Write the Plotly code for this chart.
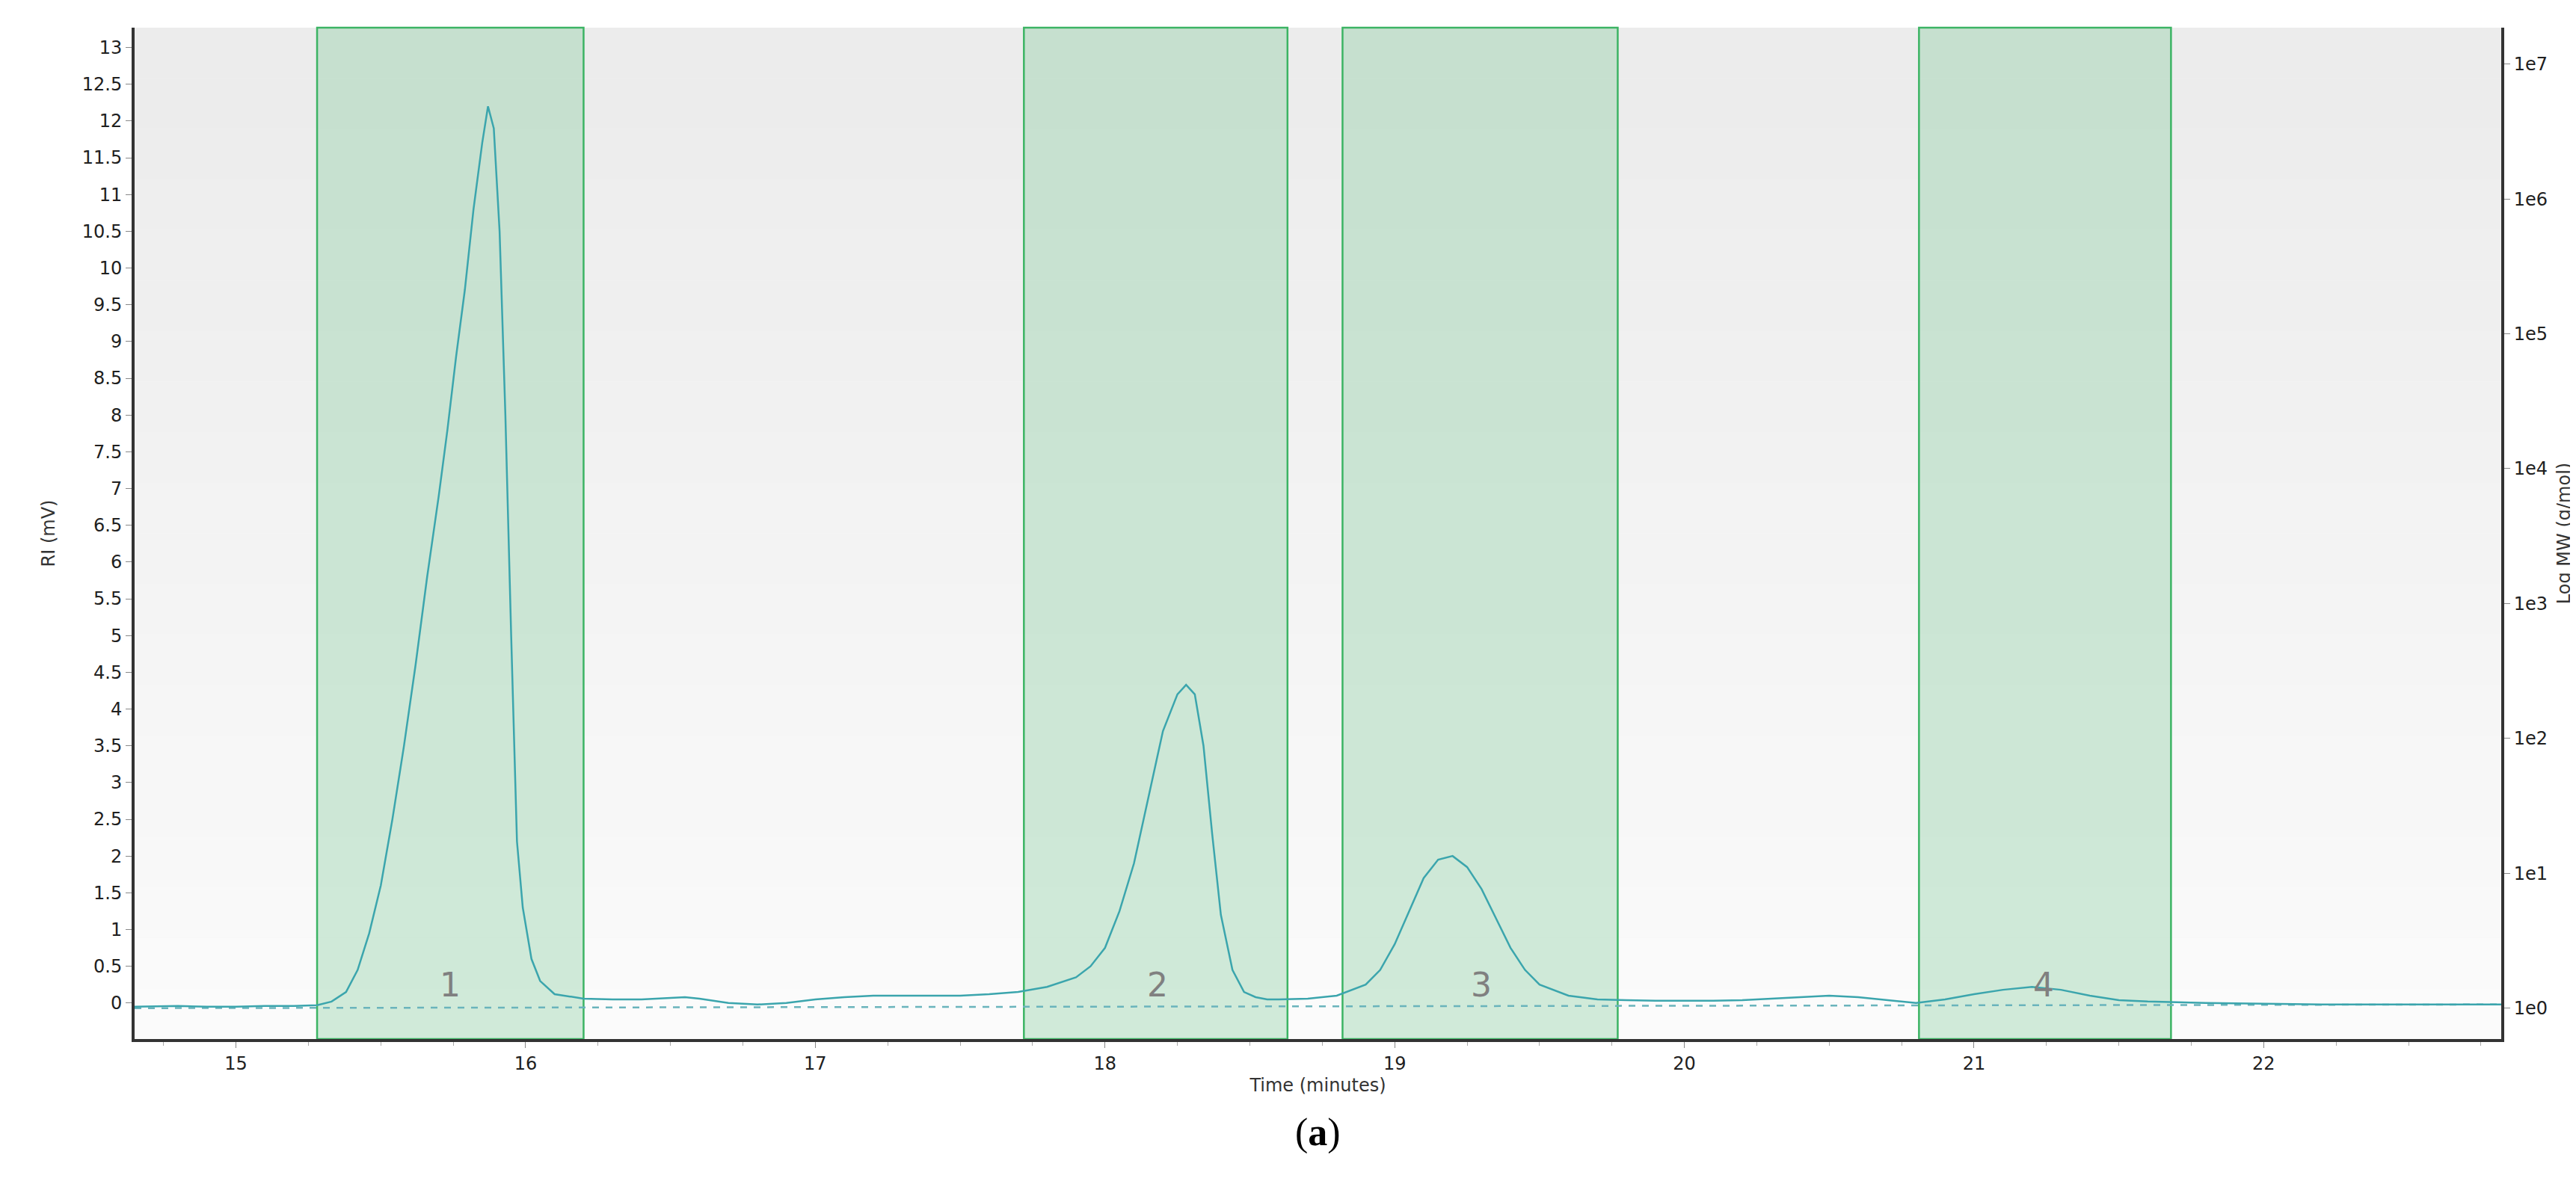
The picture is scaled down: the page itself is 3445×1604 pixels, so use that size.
import plotly.graph_objects as go

# RI trace (minutes, mV)
time_min = [14.65,14.8,14.9,15.0,15.1,15.2,15.28,15.33,15.38,15.42,15.46,15.5,15.54,15.58,15.62,15.66,15.7,15.73,15.76,15.79,15.82,15.85,15.87,15.89,15.91,15.93,15.95,15.97,15.99,16.02,16.05,16.1,16.2,16.3,16.4,16.5,16.55,16.6,16.7,16.8,16.9,17.0,17.1,17.2,17.3,17.4,17.5,17.6,17.7,17.8,17.9,17.95,18.0,18.05,18.1,18.15,18.2,18.25,18.28,18.31,18.34,18.37,18.4,18.44,18.48,18.52,18.56,18.6,18.7,18.8,18.9,18.95,19.0,19.05,19.1,19.15,19.2,19.25,19.3,19.35,19.4,19.45,19.5,19.6,19.7,19.8,19.9,20.0,20.1,20.2,20.3,20.4,20.5,20.6,20.7,20.8,20.9,21.0,21.1,21.2,21.3,21.4,21.5,21.6,21.7,21.8,22.0,22.2,22.4,22.6,22.82]
ri_mv = [-0.05,-0.04,-0.05,-0.05,-0.04,-0.04,-0.03,0.02,0.15,0.45,0.95,1.6,2.5,3.5,4.6,5.8,6.9,7.8,8.8,9.7,10.8,11.7,12.2,11.9,10.5,8.0,5.0,2.2,1.3,0.6,0.3,0.12,0.06,0.05,0.05,0.07,0.08,0.06,0.0,-0.02,0.0,0.05,0.08,0.1,0.1,0.1,0.1,0.12,0.15,0.22,0.35,0.5,0.75,1.25,1.9,2.8,3.7,4.2,4.33,4.2,3.5,2.3,1.2,0.45,0.15,0.08,0.05,0.05,0.06,0.1,0.25,0.45,0.8,1.25,1.7,1.95,2.0,1.85,1.55,1.15,0.75,0.45,0.25,0.1,0.05,0.04,0.03,0.03,0.03,0.04,0.06,0.08,0.1,0.08,0.04,0.0,0.05,0.12,0.18,0.22,0.18,0.1,0.04,0.02,0.01,0.0,-0.01,-0.02,-0.02,-0.02,-0.02]

baseline_x = [14.65, 22.82]
baseline_y = [-0.07, -0.02]

bands = [(15.28, 16.20, "1", 15.74), (17.72, 18.63, "2", 18.18), (18.82, 19.77, "3", 19.30), (20.81, 21.68, "4", 21.24)]

mw_ticks = [1, 10, 100, 1000, 1e4, 1e5, 1e6, 1e7]
mw_labels = ["1e0", "1e1", "1e2", "1e3", "1e4", "1e5", "1e6", "1e7"]
ri_ticks = [i * 0.5 for i in range(27)]
ri_labels = [("%g" % v) for v in ri_ticks]

fig = go.Figure()
fig.add_trace(go.Scatter(x=baseline_x, y=baseline_y, mode="lines",
                         line=dict(color="#6ab4bc", width=2.5, dash="dash"), showlegend=False))
fig.add_trace(go.Scatter(x=time_min, y=ri_mv, mode="lines",
                         line=dict(color="#3ba5ad", width=2.5), showlegend=False))
fig.add_trace(go.Scatter(x=[14.65], y=[1], yaxis="y2", mode="markers",
                         marker=dict(opacity=0), showlegend=False, hoverinfo="skip"))

shapes = []
n = 20
for i in range(n):
    c = int(236 + (251 - 236) * i / (n - 1))
    shapes.append(dict(type="rect", xref="x domain", yref="y domain", x0=0, x1=1,
                       y0=1 - (i + 1) / n, y1=1 - i / n, fillcolor=f"rgb({c},{c},{c})",
                       line=dict(width=0), layer="below"))
for x0, x1, lab, lx in bands:
    shapes.append(dict(type="rect", xref="x", yref="y domain", x0=x0, x1=x1, y0=0, y1=1,
                       fillcolor="rgba(120,200,150,0.33)", line=dict(color="#3cb464", width=2.5),
                       layer="below"))
    fig.add_annotation(x=lx, y=0.25, text=lab, showarrow=False,
                       font=dict(size=44, color="#808080", family="DejaVu Sans"))
fig.add_annotation(xref="paper", yref="paper", x=0.5, y=-0.115, text="(<b>a</b>)", showarrow=False,
                   font=dict(size=52, color="black", family="Liberation Serif"))

fig.update_layout(
    width=3445, height=1604, paper_bgcolor="white", plot_bgcolor="#f4f4f4",
    margin=dict(l=172, r=108, t=29, b=222), shapes=shapes,
    font=dict(family="DejaVu Sans", color="#202020", size=24),
    xaxis=dict(range=[14.65, 22.82], dtick=1, ticks="outside", ticklen=8, tickcolor="#888",
               minor=dict(dtick=0.25, ticks="outside", ticklen=5, tickcolor="#aaa"),
               showgrid=False, zeroline=False, showline=True, linecolor="#333", linewidth=4,
               title=dict(text="Time (minutes)", font=dict(size=24, color="#333"), standoff=8),
               tickfont=dict(size=24)),
    yaxis=dict(range=[-0.49, 13.27], tickvals=ri_ticks, ticktext=ri_labels, ticks="outside",
               ticklen=8, tickcolor="#888", showgrid=False, zeroline=False, showline=True,
               linecolor="#333", linewidth=4,
               title=dict(text="RI (mV)", font=dict(size=24, color="#333"), standoff=30),
               tickfont=dict(size=24)),
    yaxis2=dict(type="log", overlaying="y", side="right", range=[-0.23, 7.27],
                tickvals=mw_ticks, ticktext=mw_labels, ticks="outside", ticklen=8, tickcolor="#888",
                showgrid=False, zeroline=False, showline=True, linecolor="#333", linewidth=4,
                title=dict(text="Log MW (g/mol)", font=dict(size=24, color="#333")),
                tickfont=dict(size=24)),
)
fig.write_html("out.html")
